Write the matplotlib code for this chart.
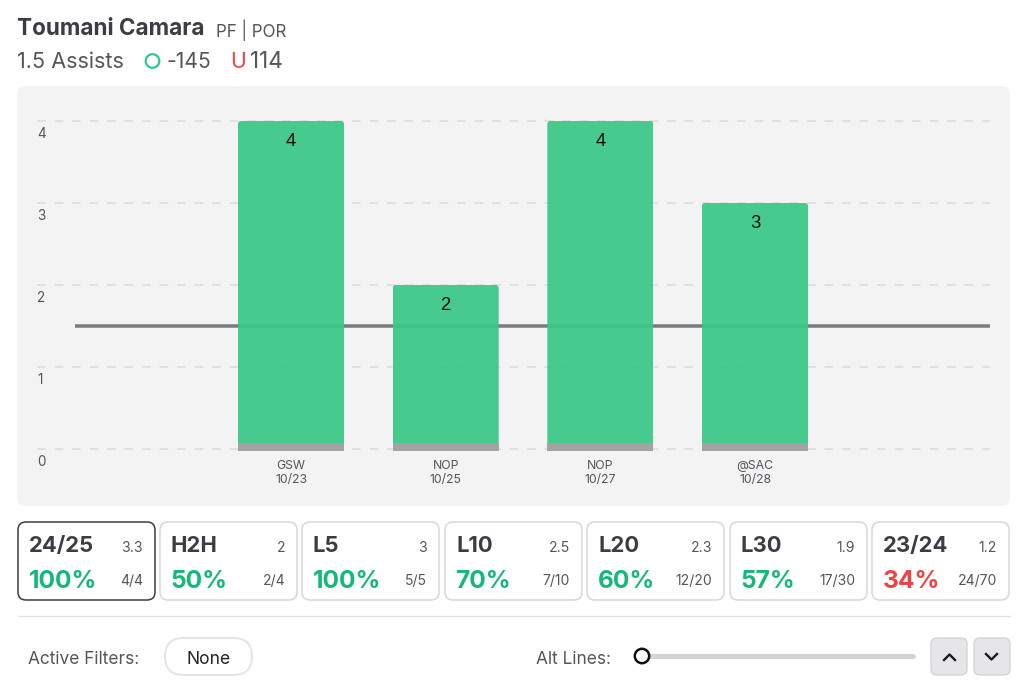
import matplotlib
matplotlib.use("Agg")
import matplotlib.pyplot as plt
from matplotlib.patches import FancyBboxPatch, Circle
from matplotlib.transforms import ScaledTranslation

plt.rcParams['font.family'] = ['Inter', 'DejaVu Sans']

# data
games = ["GSW\n10/23", "NOP\n10/25", "NOP\n10/27", "@SAC\n10/28"]
assists = [4, 2, 4, 3]
line_value = 1.5
y_ticks = [0, 1, 2, 3, 4]

card_names = ["24/25", "H2H", "L5", "L10", "L20", "L30", "23/24"]
card_avgs = ["3.3", "2", "3", "2.5", "2.3", "1.9", "1.2"]
card_pcts = ["100%", "50%", "100%", "70%", "60%", "57%", "34%"]
card_counts = ["4/4", "2/4", "5/5", "7/10", "12/20", "17/30", "24/70"]

GREEN = "#39c785"
PCT_GREEN = "#14b877"
RED = "#f04242"
DARK = "#3c3c44"
MID = "#55555c"

W, H = 1024, 687
fig = plt.figure(figsize=(W / 100, H / 100), dpi=100, facecolor="white")


def px(size):
    return size * 0.72


# page overlay in pixel coordinates
bg = fig.add_axes([0, 0, 1, 1], zorder=0)
bg.set_xlim(0, W)
bg.set_ylim(H, 0)
bg.axis("off")


def rbox(x0, y0, x1, y1, r, fc, ec="none", lw=0):
    bg.add_patch(FancyBboxPatch((x0, y0), x1 - x0, y1 - y0,
                                boxstyle=f"round,pad=0,rounding_size={r}",
                                fc=fc, ec=ec, lw=lw))


bg.text(17, 29, "Toumani Camara", fontsize=px(22.5), fontweight="bold", color=DARK, va="center")
bg.text(216, 30, "PF | POR", fontsize=px(17), color=MID, va="center")
bg.text(17, 62, "1.5 Assists", fontsize=px(21.6), color=MID, va="center")
bg.add_patch(Circle((152.5, 61), 6.8, fc="none", ec="#2ec98a", lw=1.6))
bg.text(167, 62, "-145", fontsize=px(21), color=MID, va="center")
bg.text(230, 62, "U", fontsize=px(21), color=RED, va="center")
bg.text(250, 62, "114", fontsize=px(22.6), color=MID, va="center")

rbox(17, 86, 1010, 506, 9, "#f3f3f3")

# chart
ax_left, ax_right, ax_top, ax_bot = 37, 990, 100, 452
ax = fig.add_axes([ax_left / W, 1 - ax_bot / H, (ax_right - ax_left) / W, (ax_bot - ax_top) / H], zorder=1)
ax.patch.set_alpha(0)
x_step = 154.67
y_step = 82
ax.set_xlim((ax_left - 291) / x_step, (ax_right - 291) / x_step)
ax.set_ylim((449 - ax_bot) / y_step, (449 - ax_top) / y_step)
for s in ax.spines.values():
    s.set_visible(False)

ax.set_yticks(y_ticks)
ax.set_yticklabels([str(v) for v in y_ticks], fontsize=px(13.5), color=MID, ha="left")
ax.tick_params(axis="y", length=0, pad=0)
for lab in ax.get_yticklabels():
    lab.set_transform(lab.get_transform() + ScaledTranslation(0, -0.12, fig.dpi_scale_trans))
ax.grid(axis="y", color="#e0e0e0", lw=1.4, ls=(0, (4.5, 4.5)), zorder=1)
ax.set_axisbelow(True)

xs = list(range(len(assists)))
ax.set_xticks(xs)
ax.set_xticklabels(games, fontsize=px(12.3), color=MID, linespacing=1.25)
ax.tick_params(axis="x", length=0, pad=px(8))

ax.axhline(line_value, xmin=(75 - ax_left) / (ax_right - ax_left), color="#7b7b7b", lw=px(3.5),
           solid_capstyle="butt", zorder=2)

bar_w = 106 / x_step
bars = ax.bar(xs, assists, width=bar_w, color=GREEN, alpha=0.93, zorder=3)
for b in bars:
    clip = FancyBboxPatch((b.get_x(), 0), b.get_width(), b.get_height(),
                          boxstyle=f"round,pad=0,rounding_size={3 / x_step}",
                          mutation_aspect=x_step / y_step, transform=ax.transData)
    b.set_clip_path(clip)
ax.bar(xs, [8 / y_step] * len(xs), bottom=-2 / y_step, width=bar_w, color="#a3a3a1", zorder=4, clip_on=False)

for x, v in zip(xs, assists):
    ax.annotate(str(v), (x, v), xytext=(0, -px(20.5)), textcoords="offset points",
                ha="center", va="center", fontsize=px(18.5), color="#111111",
                family=["Liberation Sans", "DejaVu Sans"], zorder=5)

# stat cards
card_x = [18, 160, 302, 445, 587, 730, 872]
card_w = 137
for i, x0 in enumerate(card_x):
    active = i == 0
    rbox(x0, 522, x0 + card_w, 600, 8, "white", "#3c3c44" if active else "#d8d8db", 1.1)
    bg.text(x0 + 11, 546, card_names[i], fontsize=px(22), fontweight="bold", color=DARK, va="center")
    bg.text(x0 + 125, 548, card_avgs[i], fontsize=px(14), color=MID, va="center", ha="right")
    pct_col = RED if i == 6 else PCT_GREEN
    bg.text(x0 + 10.5, 581, card_pcts[i], fontsize=px(24.5), fontweight="bold", color=pct_col, va="center")
    bg.text(x0 + 125, 581, card_counts[i], fontsize=px(14), color=MID, va="center", ha="right")

bg.plot([18, 1010], [616, 616], color="#e2e2e4", lw=1)

# footer controls
bg.text(28, 659.5, "Active Filters:", fontsize=px(17.3), color=MID, va="center")
rbox(165, 638, 252, 675, 18.5, "white", "#e4e4e6", 1.4)
bg.text(208.5, 659.5, "None", fontsize=px(17.5), color="#222222", va="center", ha="center")
bg.text(536, 659.5, "Alt Lines:", fontsize=px(17.3), color=MID, va="center")
bg.plot([642, 913], [656, 656], color="#d4d4d8", lw=px(5), solid_capstyle="round")
bg.add_patch(Circle((642, 656), 7.2, fc="white", ec="#111111", lw=1.8, zorder=5))
rbox(931, 638, 967, 675, 6, "#e6e6e8", "#d4d4d8", 1)
rbox(974, 638, 1010, 675, 6, "#e6e6e8", "#d4d4d8", 1)
bg.plot([944, 949.5, 955], [660, 654.5, 660], color="#1c1c1c", lw=1.7)
bg.plot([986, 991.5, 997], [654, 659.5, 654], color="#1c1c1c", lw=1.7)

fig.savefig("out.png", dpi=100)
